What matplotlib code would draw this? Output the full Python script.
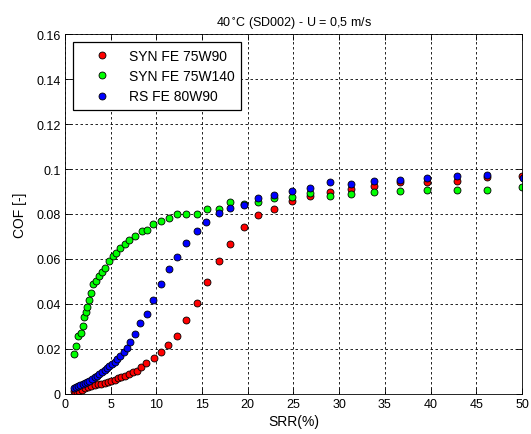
import matplotlib
matplotlib.use('Agg')
import matplotlib.pyplot as plt

plt.rcParams['font.family'] = ['Liberation Sans', 'DejaVu Sans']

# SYN FE 75W90 (red)
red_x = [1.0, 1.06, 1.31, 1.57, 1.86, 2.15, 2.52, 2.88, 3.25, 3.61, 3.98, 4.34, 4.71,
         5.07, 5.43, 5.8, 6.16, 6.6, 6.96, 7.4, 7.88, 8.35, 8.9, 9.74, 10.47, 11.3,
         12.3, 13.24, 14.4, 15.5, 16.8, 18.05, 19.6, 21.15, 22.9, 24.8, 26.8, 29.0,
         31.3, 33.8, 36.65, 39.6, 42.9, 46.2, 50.0]
red_y = [0.0012, 0.0004, 0.001, 0.0015, 0.0019, 0.0025, 0.0031, 0.0034, 0.004, 0.0043,
         0.0046, 0.0049, 0.0055, 0.0059, 0.0064, 0.007, 0.0076, 0.0081, 0.0089, 0.0099,
         0.0104, 0.0119, 0.0138, 0.016, 0.0188, 0.0218, 0.0256, 0.0329, 0.0403, 0.0498,
         0.0593, 0.0667, 0.0741, 0.0796, 0.0821, 0.0859, 0.0881, 0.0896, 0.0912, 0.0926,
         0.0941, 0.0944, 0.0948, 0.0963, 0.097]

# SYN FE 75W140 (green)
green_x = [0.98, 1.2, 1.46, 1.72, 1.93, 2.08, 2.3, 2.44, 2.66, 2.8, 3.03, 3.39, 3.76,
           4.01, 4.38, 4.81, 5.21, 5.58, 6.02, 6.56, 7.04, 7.66, 8.39, 8.93, 9.62,
           10.45, 11.35, 12.3, 13.24, 14.4, 15.5, 16.8, 18.05, 19.6, 21.15, 22.9, 24.8,
           26.8, 29.0, 31.3, 33.8, 36.65, 39.6, 42.9, 46.2, 50.0]
green_y = [0.0178, 0.0215, 0.0256, 0.027, 0.0304, 0.034, 0.0363, 0.0385, 0.0418, 0.0447,
           0.0489, 0.0504, 0.0523, 0.0544, 0.0559, 0.059, 0.0615, 0.0627, 0.0647, 0.0667,
           0.0686, 0.0704, 0.0726, 0.073, 0.0755, 0.077, 0.0784, 0.08, 0.0802, 0.0802,
           0.082, 0.0822, 0.0855, 0.0843, 0.0855, 0.0872, 0.0874, 0.0892, 0.0881, 0.0887,
           0.0896, 0.0902, 0.0905, 0.0907, 0.0907, 0.0921]

# RS FE 80W90 (blue)
blue_x = [0.95, 1.2, 1.42, 1.68, 1.93, 2.15, 2.41, 2.66, 2.95, 3.25, 3.5, 3.76, 4.05,
          4.34, 4.6, 4.85, 5.14, 5.43, 5.69, 6.05, 6.42, 6.78, 7.15, 7.63, 8.25, 8.98,
          9.66, 10.45, 11.35, 12.3, 13.24, 14.4, 15.4, 16.8, 18.05, 19.6, 21.15, 22.9,
          24.8, 26.8, 29.0, 31.3, 33.8, 36.65, 39.6, 42.9, 46.2, 50.1]
blue_y = [0.0025, 0.003, 0.0034, 0.004, 0.0044, 0.0049, 0.0055, 0.0059, 0.0067, 0.0074,
          0.0079, 0.0087, 0.0096, 0.0107, 0.0116, 0.0123, 0.0133, 0.0144, 0.0156, 0.017,
          0.0185, 0.0203, 0.023, 0.0268, 0.0316, 0.0357, 0.0418, 0.0488, 0.0556, 0.0611,
          0.0673, 0.0723, 0.0766, 0.0803, 0.0826, 0.0841, 0.087, 0.0883, 0.0901, 0.0916,
          0.0941, 0.0935, 0.0945, 0.0952, 0.0958, 0.0967, 0.0973, 0.0958]

x_ticks = [0, 5, 10, 15, 20, 25, 30, 35, 40, 45, 50]
y_ticks = [0, 0.02, 0.04, 0.06, 0.08, 0.1, 0.12, 0.14, 0.16]
y_labels = ['0', '0.02', '0.04', '0.06', '0.08', '0.1', '0.12', '0.14', '0.16']

fig = plt.figure(figsize=(5.31, 4.35), dpi=100)
ax = fig.add_axes([0.1224, 0.092, 0.8606, 0.8275])

mk = dict(linestyle='none', marker='o', markersize=5.0, markeredgecolor='black',
          markeredgewidth=0.6)
ax.plot(red_x, red_y, color='#ff0000', label='SYN FE 75W90', **mk)
ax.plot(green_x, green_y, color='#00ff00', label='SYN FE 75W140', **mk)
ax.plot(blue_x, blue_y, color='#0000ff', label='RS FE 80W90', **mk)

ax.set_xlim(0, 50)
ax.set_ylim(0, 0.16)
ax.set_xticks(x_ticks)
ax.set_yticks(y_ticks)
ax.set_yticklabels(y_labels)
ax.tick_params(direction='in', top=True, right=True, labelsize=9, length=4, width=0.6,
               colors='black', pad=3)
ax.grid(True, color='black', linestyle=(0, (3, 3)), linewidth=0.6)
for sp in ax.spines.values():
    sp.set_linewidth(0.6)

ax.set_title('40$^{\\circ}$C (SD002) - U = 0,5 m/s', fontsize=9, pad=6)
ax.set_xlabel('SRR(%)', fontsize=10, labelpad=3)
ax.set_ylabel('COF [-]', fontsize=10, labelpad=7)

leg = ax.legend(loc='upper left', bbox_to_anchor=(0.0175, 0.978), fontsize=10,
                fancybox=False, edgecolor='black', framealpha=1, handletextpad=0.3,
                borderpad=0.5, labelspacing=0.45, handlelength=3.2, borderaxespad=0)
leg.get_frame().set_linewidth(0.9)

fig.savefig('out.png', dpi=100)
